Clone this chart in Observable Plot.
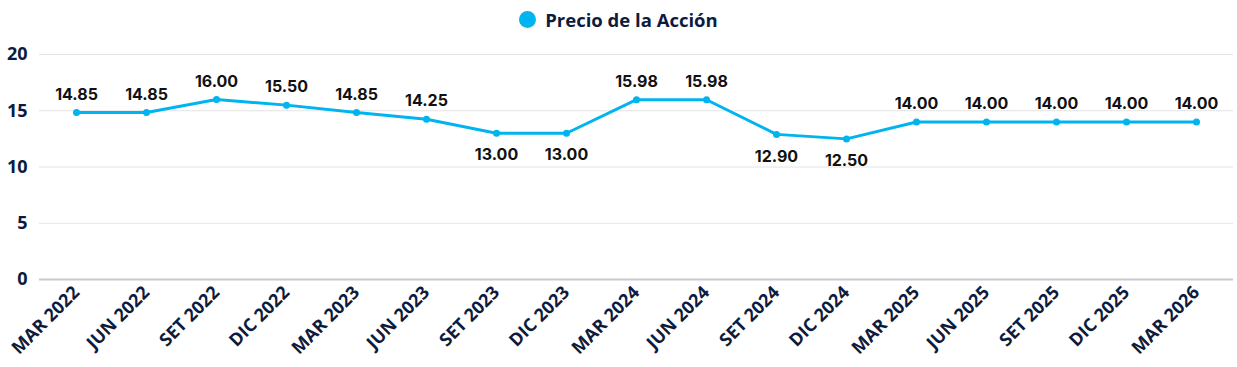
<!DOCTYPE html>
<html>
<head>
<meta charset="utf-8">
<script src="https://cdn.jsdelivr.net/npm/d3@7"></script>
<script src="https://cdn.jsdelivr.net/npm/@observablehq/plot@0.6"></script>
<style>
  html, body { margin: 0; padding: 0; background: #ffffff; }
  #legend {
    height: 38px; display: flex; align-items: center; justify-content: center;
    font-family: "Open Sans", sans-serif; font-weight: 700; font-size: 18.5px; color: #0d1b3e;
  }
  #legend .sw { width: 17px; height: 17px; border-radius: 50%; background: #00b4ef; margin-right: 9px; }
  #chart svg { display: block; }
</style>
</head>
<body>
<div id="legend"><span class="sw"></span><span>Precio de la Acción</span></div>
<div id="chart"></div>
<script>
// Quarterly periods and share price
const periods = ["MAR 2022","JUN 2022","SET 2022","DIC 2022","MAR 2023","JUN 2023","SET 2023","DIC 2023",
  "MAR 2024","JUN 2024","SET 2024","DIC 2024","MAR 2025","JUN 2025","SET 2025","DIC 2025","MAR 2026"];
const prices = [14.85,14.85,16.00,15.50,14.85,14.25,13.00,13.00,15.98,15.98,12.90,12.50,14.00,14.00,14.00,14.00,14.00];
const yTicks = [0,5,10,15,20];
const seriesName = "Precio de la Acción";

const data = periods.map((p, i) => ({period: p, price: prices[i], series: seriesName}));
// value labels sit above the line, except in the dips where they go underneath
const above = data.filter(d => d.price >= 13.5);
const below = data.filter(d => d.price < 13.5);

const lineColor = "#00b4ef";
const navy = "#0d1b3e";

const chart = Plot.plot({
  width: 1237,
  height: 329,
  marginTop: 16,
  marginBottom: 88,
  marginLeft: 39,
  marginRight: 4,
  style: {fontFamily: "'Open Sans', sans-serif", background: "#ffffff"},
  x: {type: "band", domain: periods, padding: 0, label: null},
  y: {domain: [0, 20], ticks: yTicks, label: null},
  marks: [
    Plot.gridY(yTicks.filter(t => t > 0), {stroke: "#e3e3e3", strokeOpacity: 1, strokeWidth: 1}),
    Plot.ruleY([0], {stroke: "#c9c9cf", strokeWidth: 2}),
    Plot.axisY({ticks: yTicks, tickSize: 0, tickPadding: 12, fontSize: 18, fontWeight: 700, fill: navy, label: null}),
    Plot.axisX({tickSize: 0, tickPadding: 10, tickRotate: -45, fontSize: 18, fontWeight: 700, fill: navy, label: null}),
    Plot.line(data, {x: "period", y: "price", stroke: lineColor, strokeWidth: 3}),
    Plot.dot(data, {x: "period", y: "price", fill: lineColor, r: 3.5}),
    Plot.text(above, {x: "period", y: "price", text: d => d.price.toFixed(2), dy: -18,
      fontSize: 16, fontWeight: 700, fill: "#111111", fontFamily: "Inter, sans-serif"}),
    Plot.text(below, {x: "period", y: "price", text: d => d.price.toFixed(2), dy: 22,
      fontSize: 16, fontWeight: 700, fill: "#111111", fontFamily: "Inter, sans-serif"})
  ]
});
document.getElementById("chart").appendChild(chart);
</script>
</body>
</html>
